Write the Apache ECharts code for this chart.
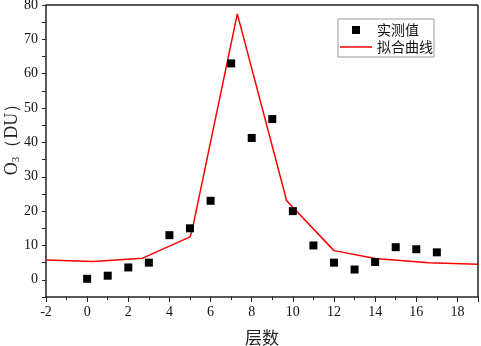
<!DOCTYPE html>
<html>
<head>
<meta charset="utf-8">
<script src="https://cdn.jsdelivr.net/npm/echarts@6/dist/echarts.min.js"></script>
<style>
  html, body { margin: 0; padding: 0; background: #fff; }
  #chart { width: 481px; height: 346px; }
</style>
</head>
<body>
<div id="chart"></div>
<script>
// 实测值
var layers = [0, 1, 2, 3, 4, 5, 6, 7, 8, 9, 10, 11, 12, 13, 14, 15, 16, 17]
var measured = [0.3, 1.2, 3.6, 5, 13, 15, 23, 63, 41.3, 46.8, 20, 10, 5, 3, 5.2, 9.5, 8.9, 8]
// 拟合曲线
var fitX = [-2, 0.3, 2.7, 5, 5.1, 7.3, 9.7, 12, 14, 16.6, 19]
var fitY = [5.8, 5.3, 6.3, 12.5, 14.3, 77.4, 23, 8.5, 6.2, 5, 4.5]

var serif = '"Liberation Serif", "Times New Roman", serif'
var cjk = '"Noto Sans CJK SC", sans-serif'

function pairs (xs, ys) {
  var out = []
  for (var i = 0; i < xs.length; i++) {
    out.push([xs[i], ys[i]])
  }
  return out
}

var chart = echarts.init(document.getElementById('chart'))

var option = {
  animation: false,
  grid: { left: 46, right: 3, top: 5, bottom: 49, containLabel: false, outerBoundsMode: 'none' },
  legend: {
    right: 47,
    top: 19,
    orient: 'vertical',
    itemGap: 3,
    itemWidth: 32,
    itemHeight: 8,
    symbolKeepAspect: true,
    padding: [4, 1, 3, 2],
    borderColor: '#999',
    borderWidth: 1,
    textStyle: { fontFamily: cjk, fontSize: 14, color: '#111' },
    data: [
      { name: '实测值', icon: 'path://M0,0H8V8H0Z', itemStyle: { color: '#000' } },
      { name: '拟合曲线', icon: 'path://M0,0H32V1.5H0Z', itemStyle: { color: '#f00' } }
    ]
  },
  xAxis: {
    type: 'value',
    min: -2,
    max: 19,
    interval: 2,
    name: '层数',
    nameLocation: 'middle',
    nameGap: 32,
    nameMoveOverlap: false,
    nameTextStyle: { fontFamily: cjk, fontSize: 17, color: '#222' },
    axisLine: { show: true, onZero: false, lineStyle: { color: '#222', width: 1.5 } },
    axisTick: { show: true, length: 5, lineStyle: { color: '#222' } },
    minorTick: { show: true, splitNumber: 2, length: 3, lineStyle: { color: '#222' } },
    axisLabel: { fontFamily: serif, fontSize: 14, color: '#111', margin: 8, showMaxLabel: false },
    splitLine: { show: false }
  },
  yAxis: {
    type: 'value',
    min: -5,
    max: 80,
    interval: 5,
    name: '{a|O}{b|3}{a|（DU）}',
    nameLocation: 'middle',
    nameGap: 24,
    nameRotate: 90,
    nameMoveOverlap: false,
    nameTextStyle: {
      padding: [0, 0, 0, 32],
      rich: {
        a: { fontFamily: serif, fontSize: 18, color: '#222' },
        b: { fontFamily: serif, fontSize: 11, color: '#222', verticalAlign: 'bottom', padding: [9, 0, 0, 0] }
      }
    },
    axisLine: { show: true, onZero: false, lineStyle: { color: '#222', width: 1.5 } },
    axisTick: { show: true, length: 4, lineStyle: { color: '#222' } },
    axisLabel: {
      fontFamily: serif, fontSize: 14, color: '#111', margin: 8,
      formatter: function (v) { return (v >= 0 && v % 10 === 0) ? v : '' }
    },
    splitLine: { show: false }
  },
  series: [
    {
      name: '实测值',
      type: 'scatter',
      symbol: 'rect',
      symbolSize: 8,
      itemStyle: { color: '#000', opacity: 1 },
      data: pairs(layers, measured),
      z: 3
    },
    {
      name: '拟合曲线',
      type: 'line',
      showSymbol: false,
      symbol: 'none',
      lineStyle: { color: '#f00', width: 1.5 },
      itemStyle: { color: '#f00' },
      data: pairs(fitX, fitY),
      z: 2
    },
    // 上框和右框
    {
      type: 'line',
      silent: true,
      symbol: 'none',
      data: [],
      markLine: {
        silent: true,
        symbol: 'none',
        label: { show: false },
        lineStyle: { color: '#222', width: 1.5, type: 'solid' },
        data: [
          [{ coord: [-2, 80] }, { coord: [19, 80] }],
          [{ coord: [19, -5] }, { coord: [19, 80] }]
        ]
      }
    }
  ]
}

chart.setOption(option)
</script>
</body>
</html>
